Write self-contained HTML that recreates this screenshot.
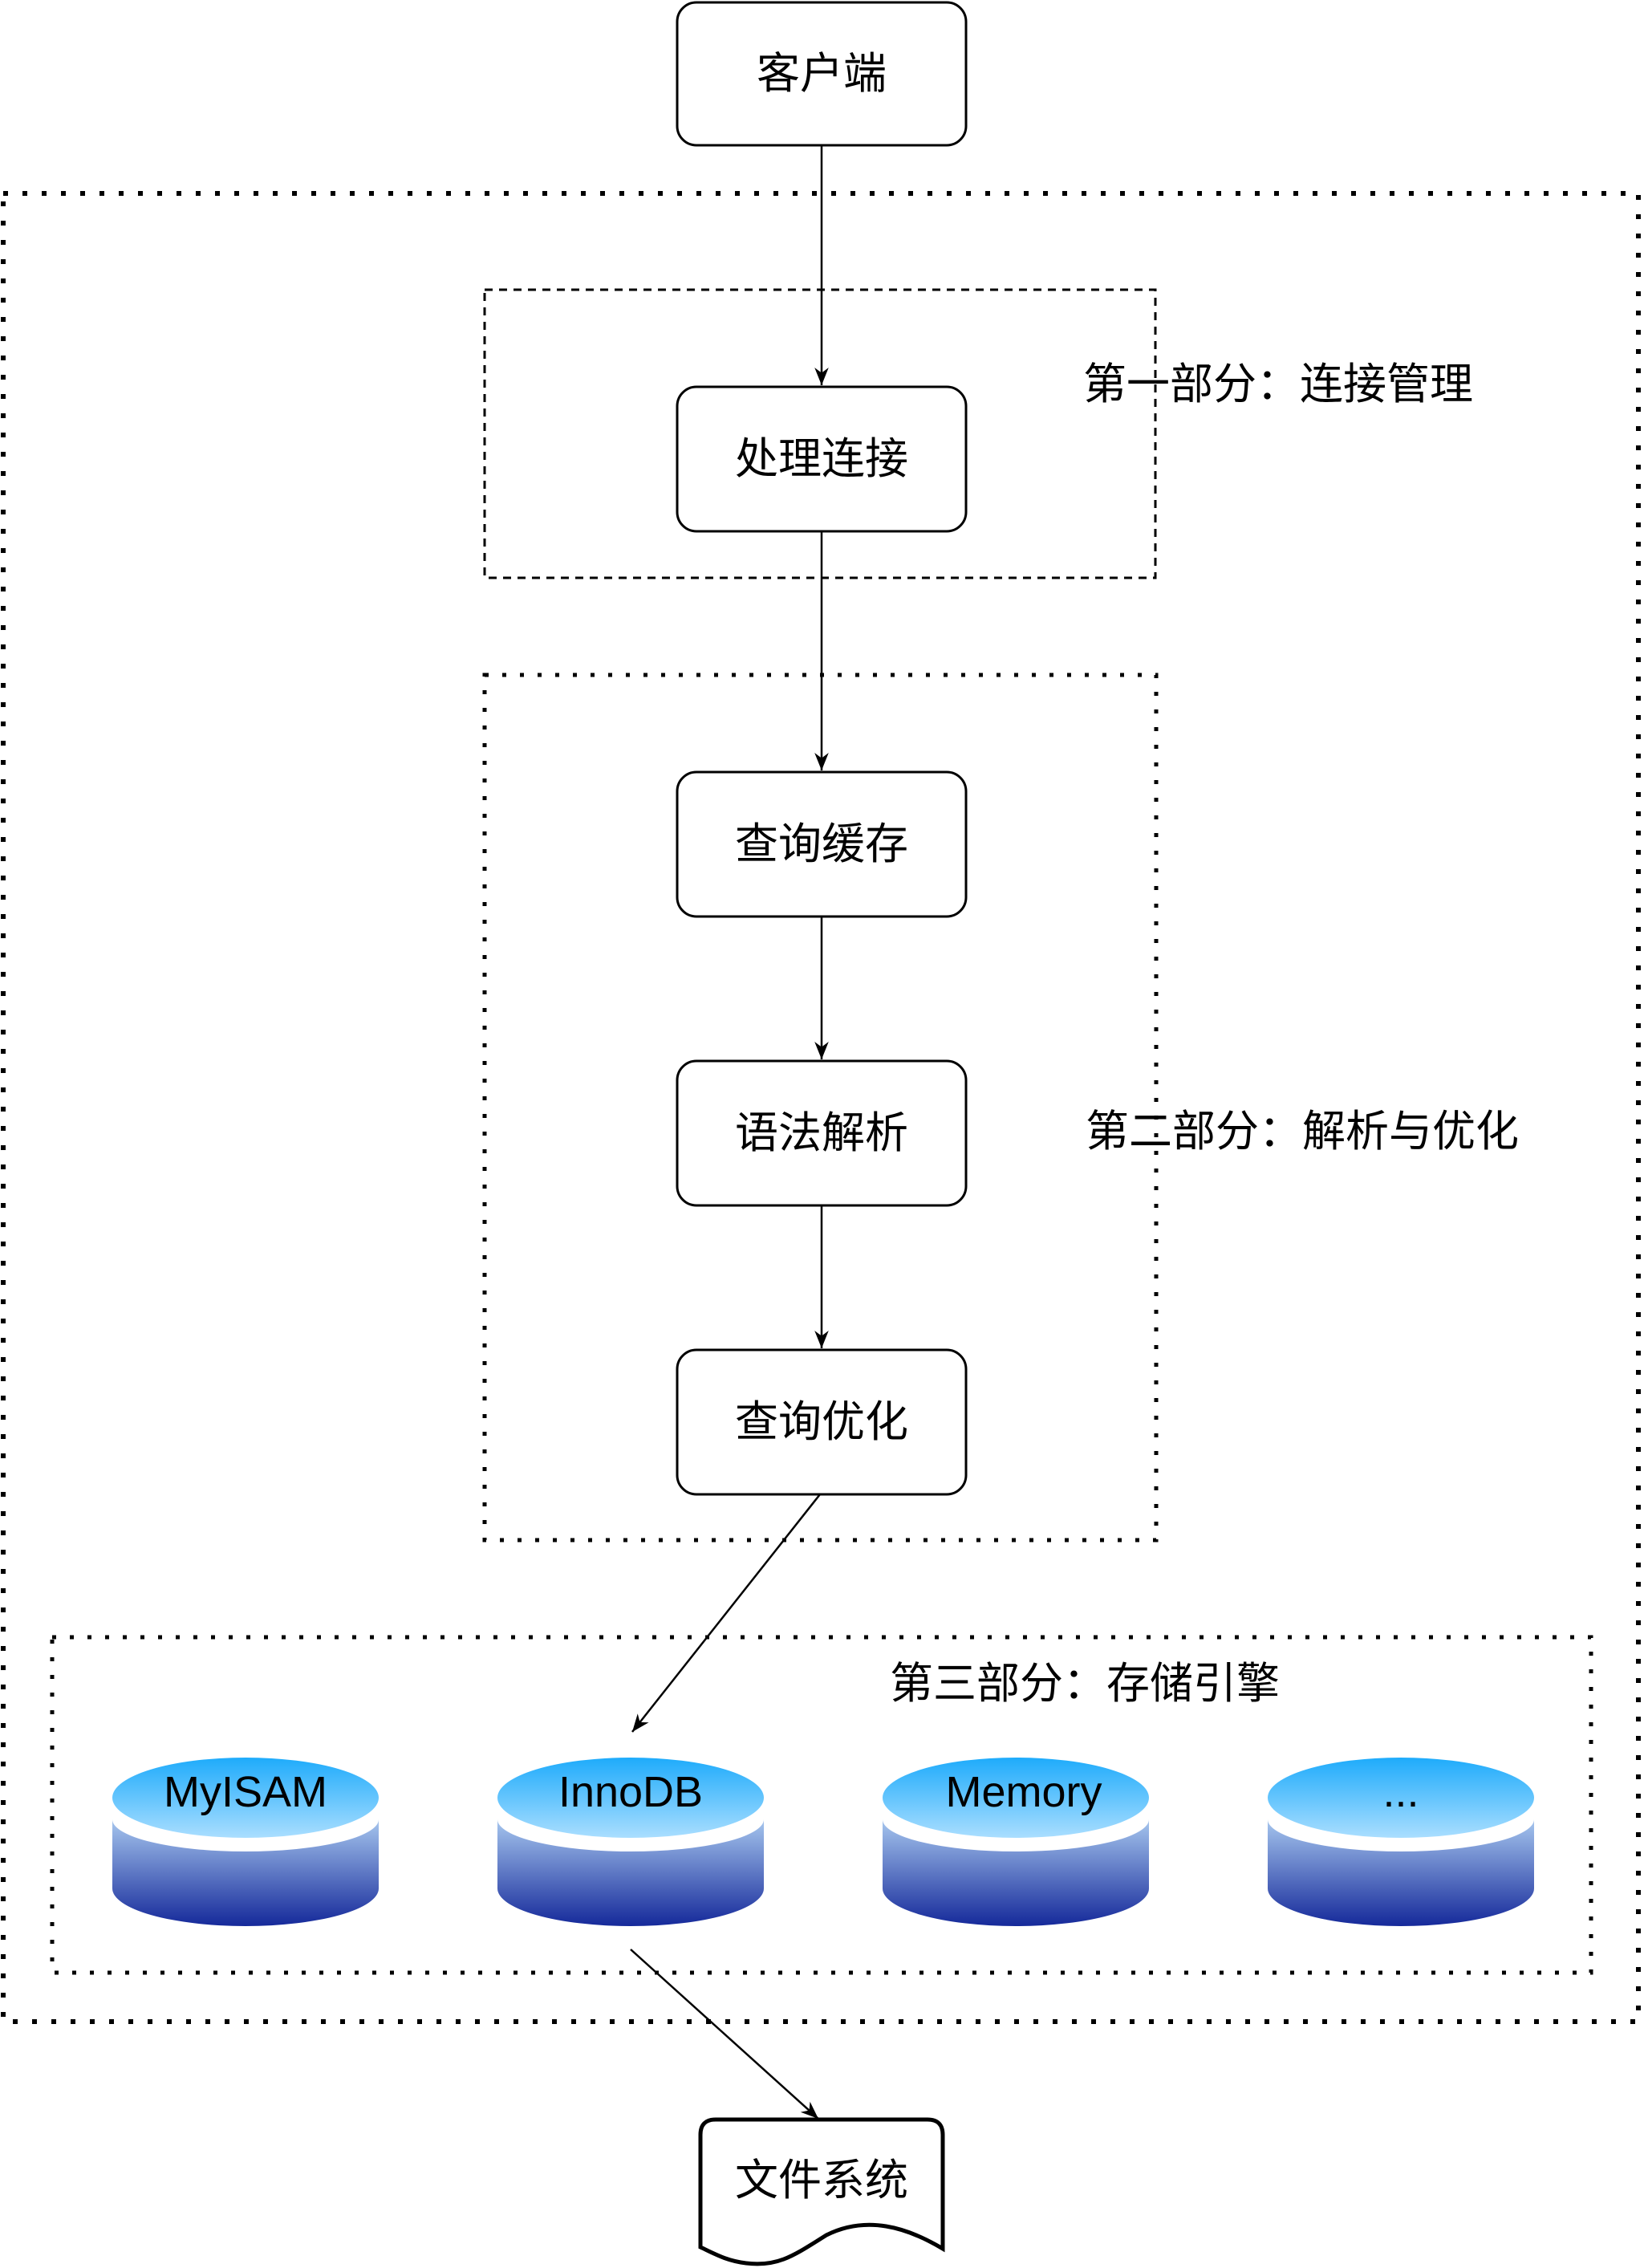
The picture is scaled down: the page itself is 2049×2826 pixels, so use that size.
<!DOCTYPE html>
<html><head><meta charset="utf-8"><style>
html,body{margin:0;padding:0;background:#fff}
svg{display:block}
text{font-family:"Liberation Sans","Noto Sans CJK SC",sans-serif;fill:#000}
</style></head><body>
<svg width="2049" height="2826" viewBox="0 0 2049 2826" xmlns="http://www.w3.org/2000/svg">
<defs>
<linearGradient id="top" x1="0" y1="0" x2="0" y2="1"><stop offset="0" stop-color="#1eabfb"/><stop offset="1" stop-color="#aadeff"/></linearGradient>
<linearGradient id="body" x1="0" y1="0" x2="0" y2="1"><stop offset="0" stop-color="#a6c6ee"/><stop offset="1" stop-color="#15299a"/></linearGradient>
<marker id="ar" markerWidth="26" markerHeight="22" refX="10" refY="5" orient="auto" markerUnits="userSpaceOnUse" viewBox="0 0 10 10">
<path d="M0,1 L10,5 L0,9 L3,5 Z" fill="#000"/></marker>
</defs>
<rect x="4" y="241" width="2038" height="2278" fill="none" stroke="#000" stroke-width="6" stroke-dasharray="6 18"/>
<rect x="604" y="361" width="836" height="359" fill="none" stroke="#000" stroke-width="3" stroke-dasharray="10 8"/>
<rect x="604" y="841" width="837" height="1078" fill="none" stroke="#000" stroke-width="5" stroke-dasharray="5 17"/>
<rect x="65" y="2040" width="1918" height="418" fill="none" stroke="#000" stroke-width="5" stroke-dasharray="5 17"/>
<text x="1350" y="497" font-size="54">第一部分：连接管理</text>
<text x="1353" y="1428" font-size="54">第二部分：解析与优化</text>
<text x="1109" y="2116" font-size="54">第三部分：存储引擎</text>
<g stroke="#000" stroke-width="2.5" fill="none">
<line x1="1024" y1="182" x2="1024" y2="480" marker-end="url(#ar)"/>
<line x1="1024" y1="662" x2="1024" y2="960" marker-end="url(#ar)"/>
<line x1="1024" y1="1142" x2="1024" y2="1320" marker-end="url(#ar)"/>
<line x1="1024" y1="1502" x2="1024" y2="1680" marker-end="url(#ar)"/>
<line x1="1022" y1="1862" x2="788" y2="2158" marker-end="url(#ar)"/>
<line x1="786" y1="2429" x2="1020" y2="2640" marker-end="url(#ar)"/>
</g>
<g fill="#fff" stroke="#000" stroke-width="3">
<rect x="844" y="3" width="360" height="178" rx="24"/>
<rect x="844" y="482" width="360" height="180" rx="24"/>
<rect x="844" y="962" width="360" height="180" rx="24"/>
<rect x="844" y="1322" width="360" height="180" rx="24"/>
<rect x="844" y="1682" width="360" height="180" rx="24"/>
</g>
<g font-size="54" text-anchor="middle">
<text x="1024" y="110">客户端</text>
<text x="1024" y="590">处理连接</text>
<text x="1024" y="1070">查询缓存</text>
<text x="1024" y="1430">语法解析</text>
<text x="1024" y="1790">查询优化</text>
</g>
<g>
<path d="M140,2267 A166,40 0 0 0 472,2267 L472,2353 A166,47 0 0 1 140,2353 Z" fill="url(#body)"/>
<ellipse cx="306" cy="2240" rx="166" ry="50" fill="url(#top)"/>
<path d="M620,2267 A166,40 0 0 0 952,2267 L952,2353 A166,47 0 0 1 620,2353 Z" fill="url(#body)"/>
<ellipse cx="786" cy="2240" rx="166" ry="50" fill="url(#top)"/>
<path d="M1100,2267 A166,40 0 0 0 1432,2267 L1432,2353 A166,47 0 0 1 1100,2353 Z" fill="url(#body)"/>
<ellipse cx="1266" cy="2240" rx="166" ry="50" fill="url(#top)"/>
<path d="M1580,2267 A166,40 0 0 0 1912,2267 L1912,2353 A166,47 0 0 1 1580,2353 Z" fill="url(#body)"/>
<ellipse cx="1746" cy="2240" rx="166" ry="50" fill="url(#top)"/>
</g>
<g font-size="54" text-anchor="middle">
<text x="306" y="2251">MyISAM</text>
<text x="786" y="2251">InnoDB</text>
<text x="1276" y="2251">Memory</text>
<text x="1746" y="2251">...</text>
</g>
<path d="M873,2800 L873,2660 Q873,2641 892,2641 L1156,2641 Q1175,2641 1175,2660 L1175,2802 C1130,2775 1080,2760 1030,2785 C990,2810 970,2825 930,2820 C905,2817 890,2808 873,2800 Z" fill="#fff" stroke="#000" stroke-width="5"/>
<text x="1024" y="2735" font-size="54" text-anchor="middle">文件系统</text>
</svg>
</body></html>
